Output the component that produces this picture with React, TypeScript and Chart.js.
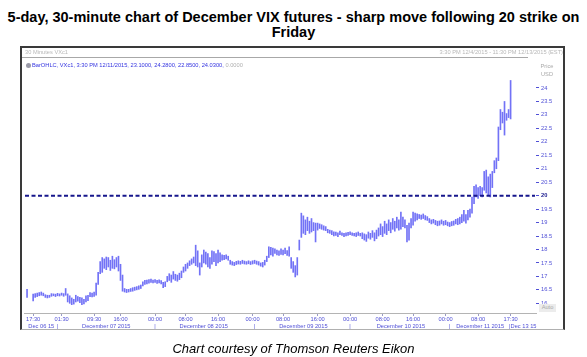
import { useEffect, useRef } from "react";
import { Chart, registerables } from "chart.js";

Chart.register(...registerables);

// 30-minute bars, Dec 6 17:00 session through Dec 11 15:30 (low / high)
const lows: (number | null)[] = [
  16.22, null, null, 16.09, 16.22, 16.25, 16.28, 16.30, 16.28, 16.22,
  16.20, 16.22, 16.26, 16.28, 16.25, 16.28, 16.27, 16.30, 16.26, 16.30,
  16.05, 16.00, 15.95, 15.97, 16.05, 16.08, 16.02, 15.95, 15.98, 16.05,
  16.10, 16.25, 16.24, 16.26, 16.30, 16.70, 17.10, 17.15, 17.30, 17.25,
  17.35, 17.22, 17.30, 17.28, 17.35, 17.20, 16.85, 16.45, 16.42, 16.40,
  16.42, 16.44, 16.45, 16.48, 16.50, 16.52, 16.55, 16.65, 16.70, 16.72,
  16.75, 16.78, 16.76, 16.78, 16.74, 16.76, 16.72, 16.58, 16.62, 16.80,
  16.85, 16.78, 16.90, 16.85, 16.82, 16.88, 16.95, 17.15, 17.20, 17.30,
  17.40, 17.45, 17.50, 17.40, 17.35, 17.05, 17.35, 17.50, 17.45, 17.35,
  17.30, 17.45, 17.55, 17.40, 17.50, 17.55, 17.60, 17.62, 17.65, 17.60,
  17.45, 17.42, 17.40, 17.44, 17.46, 17.45, 17.48, 17.46, 17.45, 17.47,
  17.44, 17.46, 17.48, 17.45, 17.42, 17.38, 17.35, 17.42, 17.55, 17.70,
  17.80, 17.75, 17.85, 17.80, 17.78, 17.82, 17.80, 17.84, 17.78, 17.75,
  17.30, 17.15, 16.98, 17.05, 17.98, 18.45, 18.60, 18.55, 18.70, 18.60,
  18.65, 18.70, 18.28, 18.72, 18.78, 18.75, 18.72, 18.70, 18.62, 18.60,
  18.55, 18.50, 18.52, 18.48, 18.55, 18.52, 18.48, 18.50, 18.52, 18.55,
  18.52, 18.50, 18.48, 18.52, 18.50, 18.40, 18.35, 18.30, 18.42, 18.38,
  18.45, 18.32, 18.40, 18.50, 18.55, 18.48, 18.60, 18.55, 18.70, 18.62,
  18.75, 18.68, 18.80, 18.72, 18.75, 18.85, 18.80, 18.28, 18.35, 18.80,
  18.90, 19.05, 19.10, 19.15, 19.12, 19.15, 19.10, 19.08, 19.00, 18.95,
  18.98, 18.92, 18.88, 18.90, 18.95, 18.90, 18.92, 18.88, 18.85, 18.88,
  18.90, 18.95, 18.92, 18.95, 19.00, 19.05, 18.98, 19.10, 19.20, 19.35,
  19.70, 19.95, 19.90, 20.00, 19.95, 20.20, 20.10, 20.00, 19.95, 20.30,
  20.85, 21.00, 21.30, 22.45, 22.70, 22.25, 22.80, 22.90, 22.85,
];

const highs: (number | null)[] = [
  16.52, null, null, 16.34, 16.36, 16.38, 16.40, 16.42, 16.38, 16.32,
  16.30, 16.30, 16.36, 16.35, 16.34, 16.37, 16.35, 16.38, 16.36, 16.55,
  16.35, 16.28, 16.20, 16.15, 16.30, 16.25, 16.22, 16.20, 16.15, 16.28,
  16.30, 16.40, 16.38, 16.42, 16.75, 17.15, 17.55, 17.70, 17.65, 17.72,
  17.70, 17.60, 17.75, 17.62, 17.70, 17.75, 17.45, 17.05, 16.55, 16.52,
  16.52, 16.55, 16.58, 16.60, 16.62, 16.65, 16.68, 16.80, 16.85, 16.86,
  16.88, 16.90, 16.86, 16.88, 16.85, 16.87, 16.84, 16.78, 16.80, 17.00,
  17.10, 17.05, 17.18, 17.08, 17.05, 17.12, 17.20, 17.35, 17.45, 17.50,
  17.58, 17.65, 17.72, 18.16, 17.95, 17.50, 17.80, 17.98, 17.90, 17.85,
  17.70, 17.95, 17.92, 17.85, 17.98, 17.88, 17.80, 17.78, 17.80, 17.75,
  17.60, 17.55, 17.52, 17.56, 17.58, 17.56, 17.60, 17.57, 17.55, 17.58,
  17.55, 17.58, 17.60, 17.57, 17.55, 17.50, 17.52, 17.60, 17.75, 18.10,
  18.08, 18.05, 18.02, 17.98, 17.95, 18.02, 17.98, 18.05, 17.96, 18.10,
  17.70, 17.55, 17.40, 17.70, 18.35, 19.35, 19.25, 19.10, 19.20, 19.05,
  19.15, 19.00, 18.98, 18.98, 18.95, 18.92, 18.88, 18.85, 18.75, 18.72,
  18.70, 18.66, 18.65, 18.62, 18.68, 18.62, 18.60, 18.62, 18.64, 18.66,
  18.62, 18.60, 18.62, 18.65, 18.60, 18.62, 18.58, 18.55, 18.65, 18.60,
  18.70, 18.62, 18.72, 18.80, 18.95, 18.85, 19.05, 18.95, 19.10, 19.00,
  19.15, 19.05, 19.20, 19.10, 19.39, 19.20, 19.10, 18.90, 18.98, 19.15,
  19.39, 19.35, 19.32, 19.30, 19.28, 19.32, 19.26, 19.22, 19.15, 19.10,
  19.12, 19.08, 19.05, 19.06, 19.10, 19.05, 19.08, 19.02, 19.00, 19.04,
  19.06, 19.12, 19.15, 19.20, 19.30, 19.45, 19.30, 19.45, 19.50, 19.95,
  20.35, 20.40, 20.30, 20.35, 20.30, 20.90, 20.95, 20.70, 20.80, 20.90,
  21.30, 21.40, 22.55, 23.20, 23.10, 23.50, 23.05, 23.20, 24.28,
];

const SLOT_COUNT = 252;
const FIRST_SLOT = 1;
const STRIKE = 20;
const Y_MIN = 15.64;
const Y_MAX = 25.04;
const yTicks = [16, 16.5, 17, 17.5, 18, 18.5, 19, 19.5, 20, 20.5, 21, 21.5, 22, 22.5, 23, 23.5, 24];

const timeTickSlots = [4, 18, 34, 47, 64, 79, 95, 112, 127, 144, 160, 176, 191, 207, 223, 239];
const timeTickLabels = ["17:30", "01:30", "09:30", "16:00", "00:00", "08:00", "16:00", "00:00", "08:00", "16:00", "00:00", "08:00", "16:00", "00:00", "08:00", "17:30"];
const dateTickSlots = [8, 16, 40, 64, 88, 113, 137, 160, 185, 209, 224, 245];
const dateTickLabels = ["Dec 06 15", "|", "December 07 2015", "|", "December 08 2015", "|", "December 09 2015", "|", "December 10 2015", "|", "December 11 2015", "|Dec 13 15"];

const TITLE_1 = "5-day, 30-minute chart of December VIX futures - sharp move following 20 strike on";
const TITLE_2 = "Friday";
const CAPTION = "Chart courtesy of Thomson Reuters Eikon";
const PANEL_NAME = "30 Minutes VXc1";
const LEGEND_TEXT = "BarOHLC, VXc1, 3:30 PM 12/11/2015, 23.1000, 24.2800, 22.8500, 24.0300,";
const LEGEND_TAIL = " 0.0000";
const RANGE_TEXT = "3:30 PM 12/4/2015 - 11:30 PM 12/13/2015 (EST)";

const FONT = '"Liberation Sans", Arial, sans-serif';
const SMALL = 5.7;
const LABEL_BLUE = "#4f4fd6";

export default function App() {
  const ref = useRef<HTMLCanvasElement>(null);

  useEffect(() => {
    const slots = Array.from({ length: SLOT_COUNT }, (_, i) => String(i));
    const timeMap = new Map(timeTickSlots.map((s, i) => [s, timeTickLabels[i]]));
    const dateMap = new Map(dateTickSlots.map((s, i) => [s, dateTickLabels[i]]));
    const bars = slots.map((_, i) => {
      const k = i - FIRST_SLOT;
      const lo = k >= 0 ? lows[k] : null;
      const hi = k >= 0 ? highs[k] : null;
      return lo == null || hi == null ? null : [lo, hi];
    });

    const chart = new Chart(ref.current as HTMLCanvasElement, {
      type: "bar",
      data: {
        labels: slots,
        datasets: [
          {
            type: "line",
            data: slots.map(() => STRIKE),
            borderColor: "#16168c",
            borderWidth: 2,
            borderDash: [4, 2.5],
            pointRadius: 0,
            order: 0,
          } as any,
          {
            type: "bar",
            data: bars as any,
            backgroundColor: "#7272f6",
            barThickness: 1,
            order: 1,
          },
        ],
      },
      options: {
        responsive: false,
        animation: false,
        layout: { padding: { left: 24, right: 21, top: 60, bottom: 26 } },
        plugins: { legend: { display: false }, tooltip: { enabled: false } },
        scales: {
          x: {
            type: "category",
            position: "bottom",
            offset: true,
            afterFit: (s: any) => {
              s.height = 18;
            },
            border: { display: true, color: "#b4b4b4", width: 1 },
            grid: {
              display: true,
              offset: false,
              drawOnChartArea: false,
              drawTicks: true,
              tickLength: 3,
              tickColor: (c: any) => (timeMap.has(c.index) ? "#9a9ac8" : "rgba(0,0,0,0)"),
            },
            ticks: {
              autoSkip: false,
              maxRotation: 0,
              minRotation: 0,
              padding: 0,
              color: LABEL_BLUE,
              font: { family: FONT, size: SMALL, lineHeight: 1.22 },
              callback: (_v: any, i: number) => {
                const t = timeMap.get(i) ?? "";
                const d = dateMap.get(i) ?? "";
                return t || d ? [t, d] : "";
              },
            },
          },
          y: {
            position: "right",
            min: Y_MIN,
            max: Y_MAX,
            afterBuildTicks: (s: any) => {
              s.ticks = yTicks.map((v) => ({ value: v }));
            },
            afterFit: (s: any) => {
              s.width = 30;
            },
            border: { display: false },
            grid: {
              display: true,
              drawOnChartArea: false,
              drawTicks: true,
              tickLength: 3,
              tickColor: LABEL_BLUE,
            },
            ticks: {
              padding: 2,
              color: (c: any) => (c.tick && c.tick.value === STRIKE ? "#16168c" : LABEL_BLUE),
              font: (c: any) => ({
                family: FONT,
                size: SMALL,
                weight: c.tick && c.tick.value === STRIKE ? "bold" : "normal",
              }),
              callback: (v: any) => String(v),
            },
          },
        },
      } as any,
    });
    return () => chart.destroy();
  }, []);

  const small: React.CSSProperties = {
    position: "absolute",
    fontFamily: FONT,
    fontSize: SMALL,
    lineHeight: "7px",
    whiteSpace: "nowrap",
  };

  return (
    <div
      style={{
        position: "fixed",
        left: 0,
        top: 0,
        width: 587,
        height: 357,
        background: "#ffffff",
        overflow: "hidden",
        fontFamily: FONT,
      }}
    >
      <div
        style={{
          position: "absolute",
          left: 0,
          top: 10,
          width: 587,
          textAlign: "center",
          fontWeight: "bold",
          fontSize: 14.5,
          lineHeight: "15px",
          whiteSpace: "nowrap",
          color: "#000",
        }}
      >
        {TITLE_1}
        <br />
        {TITLE_2}
      </div>

      <div
        style={{
          position: "absolute",
          left: 20,
          top: 46,
          width: 545,
          height: 284,
          boxSizing: "border-box",
          borderTop: "2px solid #3a3a3a",
          borderLeft: "2px solid #3a3a3a",
          borderRight: "2px solid #3a3a3a",
          borderBottom: "1px solid #b0b0b0",
        }}
      />
      <div style={{ position: "absolute", left: 22, top: 57, width: 506, height: 1, background: "#a8a8a8" }} />

      <canvas ref={ref} width={587} height={357} style={{ position: "absolute", left: 0, top: 0 }} />

      <div style={{ ...small, left: 25, top: 49, color: "#b8b8b8" }}>{PANEL_NAME}</div>
      <div style={{ ...small, right: 24, top: 49, color: "#b8b8b8" }}>{RANGE_TEXT}</div>
      <div
        style={{
          position: "absolute",
          left: 26,
          top: 63,
          width: 5,
          height: 5,
          borderRadius: "50%",
          background: "#9a9aa8",
        }}
      />
      <div style={{ ...small, left: 32, top: 62 }}>
        <span style={{ color: "#3434e0" }}>{LEGEND_TEXT}</span>
        <span style={{ color: "#b0b0b0" }}>{LEGEND_TAIL}</span>
      </div>
      <div style={{ ...small, left: 538, top: 63, width: 18, textAlign: "center", color: "#aaaaaa" }}>Price</div>
      <div style={{ ...small, left: 538, top: 71, width: 18, textAlign: "center", color: "#aaaaaa" }}>USD</div>
      <div
        style={{
          ...small,
          left: 539,
          top: 304,
          width: 17,
          height: 8,
          textAlign: "center",
          background: "#ececec",
          color: "#a8a8a8",
        }}
      >
        Auto
      </div>

      <div
        style={{
          position: "absolute",
          left: 0,
          top: 341,
          width: 587,
          textAlign: "center",
          fontStyle: "italic",
          fontSize: 13,
          lineHeight: "16px",
          color: "#000",
        }}
      >
        {CAPTION}
      </div>
    </div>
  );
}
